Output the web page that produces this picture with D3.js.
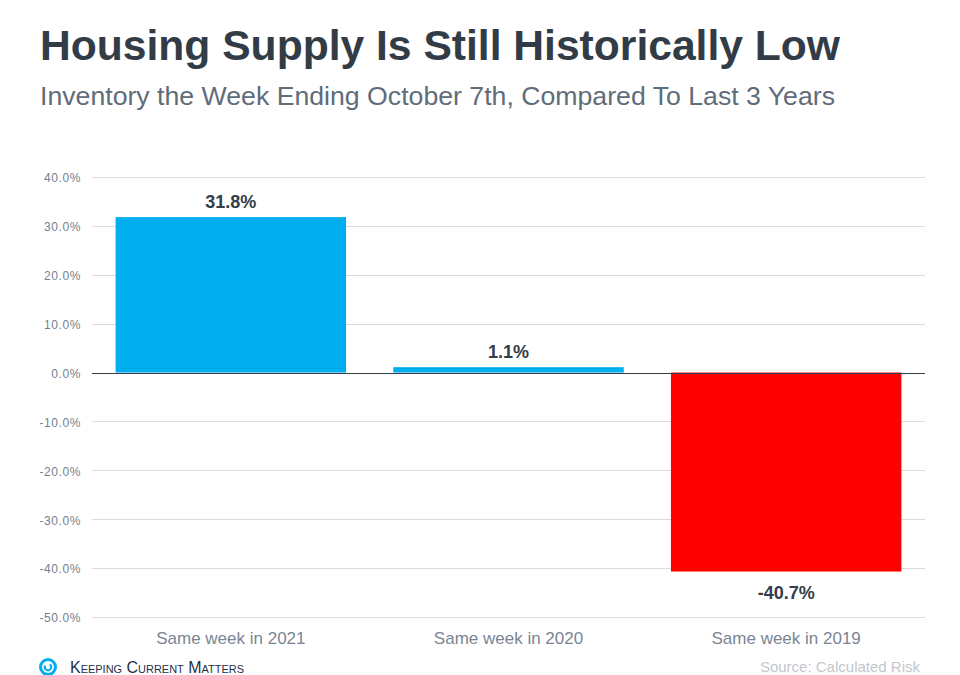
<!DOCTYPE html>
<html>
<head>
<meta charset="utf-8">
<script src="https://cdn.jsdelivr.net/npm/d3@7"></script>
<style>
  body { margin: 0; background: #fff; }
  svg { display: block; font-family: "Liberation Sans", Arial, sans-serif; }
</style>
</head>
<body>
<div id="vis"></div>
<script>
// chart data
var categories = ['Same week in 2021', 'Same week in 2020', 'Same week in 2019'];
var values = [31.8, 1.1, -40.7];
var barColors = ['#00adee', '#00adee', '#ff0000'];
var tickValues = [40, 30, 20, 10, 0, -10, -20, -30, -40, -50];

var width = 960, height = 675;
var margin = { left: 92, right: 35, top: 177, bottom: 58 };

var svg = d3.select('#vis')
    .append('svg')
        .attr('width', width)
        .attr('height', height);

// titles
svg.append('text')
    .attr('x', 40)
    .attr('y', 60)
    .attr('font-size', 42)
    .attr('font-weight', 'bold')
    .attr('fill', '#323c46')
    .attr('textLength', 800)
    .attr('lengthAdjust', 'spacingAndGlyphs')
    .text('Housing Supply Is Still Historically Low');

svg.append('text')
    .attr('x', 40)
    .attr('y', 105)
    .attr('font-size', 26)
    .attr('fill', '#5f6c7a')
    .attr('textLength', 795)
    .attr('lengthAdjust', 'spacingAndGlyphs')
    .text('Inventory the Week Ending October 7th, Compared To Last 3 Years');

// scales
var x = d3.scaleBand()
    .domain(categories)
    .range([margin.left, width - margin.right])
    .paddingInner(0.17)
    .paddingOuter(0.085);

var y = d3.scaleLinear()
    .domain([-50, 40])
    .range([height - margin.bottom, margin.top]);

// gridlines
svg.append('g')
    .selectAll('line')
    .data(tickValues.filter(function(d) { return d !== 0; }))
    .enter().append('line')
        .attr('x1', margin.left)
        .attr('x2', width - margin.right)
        .attr('y1', function(d) { return Math.round(y(d)) + 0.5; })
        .attr('y2', function(d) { return Math.round(y(d)) + 0.5; })
        .attr('stroke', '#dcdcdc')
        .attr('stroke-width', 1);

// y axis labels
var yAxis = d3.axisLeft(y)
    .tickValues(tickValues)
    .tickSize(0)
    .tickPadding(0)
    .tickFormat(function(d) { return d.toFixed(1) + '%'; });

var yAxisG = svg.append('g')
    .attr('transform', 'translate(81,1)')
    .call(yAxis);
yAxisG.select('.domain').remove();
yAxisG.selectAll('text')
    .attr('font-family', '"Liberation Sans", Arial, sans-serif')
    .attr('font-size', 12)
    .attr('letter-spacing', 0.6)
    .attr('fill', '#737f8e');

// bars
svg.append('g')
    .selectAll('rect')
    .data(values)
    .enter().append('rect')
        .attr('x', function(d, i) { return x(categories[i]); })
        .attr('width', x.bandwidth())
        .attr('y', function(d) { return y(Math.max(0, d)); })
        .attr('height', function(d) { return Math.abs(y(d) - y(0)); })
        .attr('fill', function(d, i) { return barColors[i]; });

// zero line
svg.append('line')
    .attr('x1', margin.left)
    .attr('x2', width - margin.right)
    .attr('y1', Math.round(y(0)) + 0.5)
    .attr('y2', Math.round(y(0)) + 0.5)
    .attr('stroke', '#333d47')
    .attr('stroke-width', 1);

// value labels
svg.append('g')
    .selectAll('text')
    .data(values)
    .enter().append('text')
        .attr('x', function(d, i) { return x(categories[i]) + x.bandwidth() / 2; })
        .attr('y', function(d) { return d >= 0 ? y(d) - 9 : y(d) + 27; })
        .attr('text-anchor', 'middle')
        .attr('font-size', 18)
        .attr('font-weight', 'bold')
        .attr('fill', '#333d47')
        .text(function(d) { return d.toFixed(1) + '%'; });

// category labels
var xAxis = d3.axisBottom(x).tickSize(0).tickPadding(0);
var xAxisG = svg.append('g')
    .attr('transform', 'translate(0,632)')
    .call(xAxis);
xAxisG.select('.domain').remove();
xAxisG.selectAll('text')
    .attr('font-family', '"Liberation Sans", Arial, sans-serif')
    .attr('font-size', 17)
    .attr('fill', '#7a8594');

// footer: logo
var logo = svg.append('g').attr('transform', 'translate(48,667)');
logo.append('circle')
    .attr('r', 7.5)
    .attr('fill', 'none')
    .attr('stroke', '#00adee')
    .attr('stroke-width', 3);
logo.append('path')
    .attr('d', d3.arc()({ innerRadius: 2.2, outerRadius: 4.2, startAngle: 0.6, endAngle: 5.2 }))
    .attr('fill', '#00adee');

svg.append('text')
    .attr('x', 70)
    .attr('y', 673)
    .attr('font-size', 16)
    .attr('fill', '#1f3047')
    .attr('style', 'font-variant: small-caps;')
    .attr('textLength', 174)
    .attr('lengthAdjust', 'spacingAndGlyphs')
    .text('Keeping Current Matters');

// footer: source
svg.append('text')
    .attr('x', 920)
    .attr('y', 672)
    .attr('text-anchor', 'end')
    .attr('font-size', 15)
    .attr('fill', '#c3c7cc')
    .text('Source: Calculated Risk');
</script>
</body>
</html>
